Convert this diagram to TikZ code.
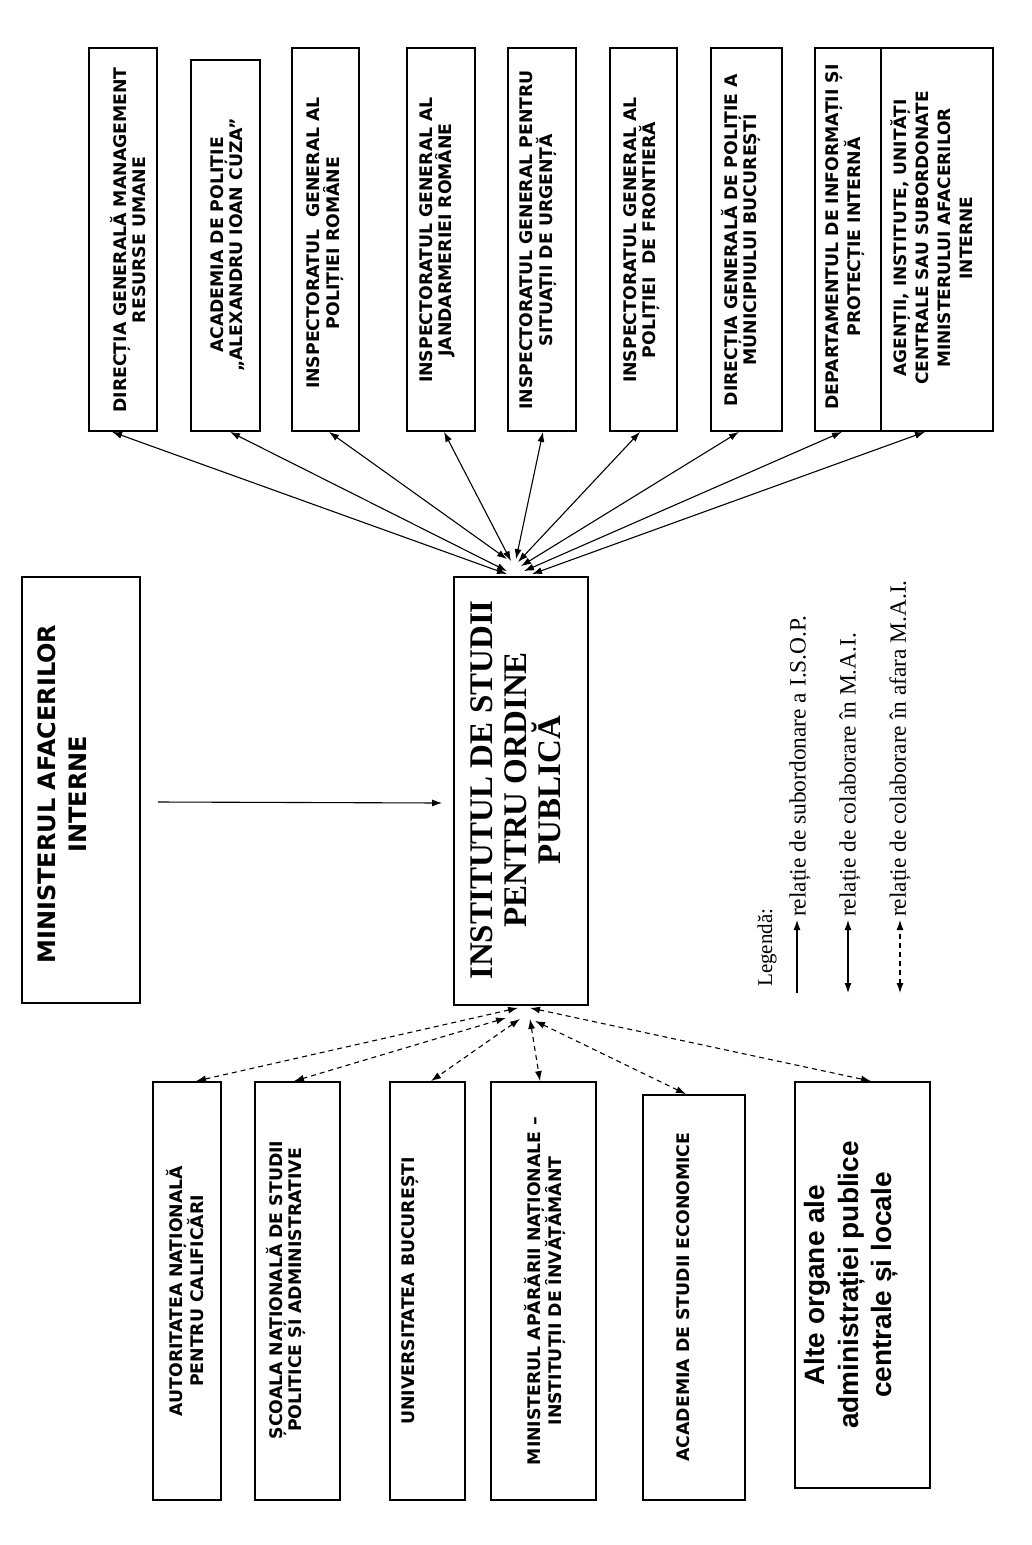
\documentclass[tikz,border=0pt]{standalone}
\usepackage{fontspec}
\setmainfont{Liberation Serif}
\newfontfamily\vfont{DejaVu Sans}
\newfontfamily\afont{Liberation Sans}
\usetikzlibrary{arrows.meta,calc}
\tikzset{
  box/.style={draw, line width=1.8pt, inner sep=0pt},
  vtxt/.style={rotate=90, align=center, inner sep=0pt},
  sm/.style={font=\vfont\bfseries\fontsize{17.3}{19.5}\selectfont},
  rel/.style={line width=1.1pt, {Latex[length=10pt,width=7pt]}-{Latex[length=10pt,width=7pt]}},
  ext/.style={rel, dash pattern=on 5pt off 4pt},
  sub/.style={line width=1.1pt, -{Latex[length=10pt,width=7pt]}},
  legtxt/.style={rotate=90, anchor=west, inner sep=0pt, font=\fontsize{23.4}{26}\selectfont}
}
\begin{document}
\begin{tikzpicture}[x=1pt,y=-1pt]
\useasboundingbox (0,0) rectangle (1031,1545);

% ---- top boxes
\node[box, minimum width=68pt, minimum height=383pt] (b1) at (123,239.5) {};
\node[box, minimum width=69pt, minimum height=371pt] (b2) at (225.5,245.5) {};
\node[box, minimum width=67pt, minimum height=383pt] (b3) at (325.5,239.5) {};
\node[box, minimum width=68pt, minimum height=383pt] (b4) at (441,239.5) {};
\node[box, minimum width=68pt, minimum height=383pt] (b5) at (542,239.5) {};
\node[box, minimum width=67pt, minimum height=383pt] (b6) at (643.5,239.5) {};
\node[box, minimum width=71pt, minimum height=383pt] (b7) at (746.5,239.5) {};
\node[box, minimum width=66pt, minimum height=383pt] (b8) at (848,239.5) {};
\node[box, minimum width=112pt, minimum height=383pt] (b9) at (937,239.5) {};

\node[vtxt, sm] (t1) at (128,240) {DIRECȚIA GENERALĂ MANAGEMENT\\RESURSE UMANE};
\node[vtxt, sm] (t2) at (227.5,245) {ACADEMIA DE POLIȚIE\\„ALEXANDRU IOAN CUZA”};
\node[vtxt, sm] (t3) at (325,243) {INSPECTORATUL\ \ GENERAL AL\\POLIȚIEI ROMÂNE};
\node[vtxt, sm] (t4) at (437.5,240) {INSPECTORATUL GENERAL AL\\JANDARMERIEI ROMÂNE};
\node[vtxt, sm] (t5) at (538,240) {INSPECTORATUL GENERAL PENTRU\\SITUAȚII DE URGENȚĂ};
\node[vtxt, sm] (t6) at (641.5,240) {INSPECTORATUL GENERAL AL\\POLIȚIEI\ \ DE FRONTIERĂ};
\node[vtxt, sm] (t7) at (741,240) {DIRECȚIA GENERALĂ DE POLIȚIE A\\MUNICIPIULUI BUCUREȘTI};
\node[vtxt, sm] (t8) at (845,237) {DEPARTAMENTUL DE INFORMAȚII ȘI\\PROTECȚIE INTERNĂ};
\node[vtxt, font=\vfont\bfseries\fontsize{17}{22}\selectfont] (t9) at (932,238) {AGENȚII, INSTITUTE, UNITĂȚI\\CENTRALE SAU SUBORDONATE\\MINISTERULUI AFACERILOR\\INTERNE};

% ---- main boxes
\node[box, minimum width=118pt, minimum height=426pt] (mai) at (81,790) {};
\node[vtxt, font=\vfont\bfseries\fontsize{24}{31}\selectfont] (tmai) at (62.5,794) {MINISTERUL AFACERILOR\\INTERNE};
\node[box, minimum width=134pt, minimum height=428pt] (isop) at (521,791) {};
\node[vtxt, font=\bfseries\fontsize{33}{34}\selectfont] (tisop) at (516,790) {INSTITUTUL DE STUDII\\PENTRU ORDINE\\PUBLICĂ};

% ---- bottom boxes
\node[box, minimum width=68pt, minimum height=418pt] (c1) at (187,1291) {};
\node[box, minimum width=85pt, minimum height=418pt] (c2) at (297.5,1291) {};
\node[box, minimum width=75pt, minimum height=418pt] (c3) at (427.5,1291) {};
\node[box, minimum width=105pt, minimum height=418pt] (c4) at (543.5,1291) {};
\node[box, minimum width=102pt, minimum height=405pt] (c5) at (694,1297.5) {};
\node[box, minimum width=135pt, minimum height=406pt] (c6) at (862.5,1285) {};

\node[vtxt, sm] (u1) at (185,1291) {AUTORITATEA NAȚIONALĂ\\PENTRU CALIFICĂRI};
\node[vtxt, sm] (u2) at (286,1290) {ȘCOALA NAȚIONALĂ DE STUDII\\POLITICE ȘI ADMINISTRATIVE};
\node[vtxt, sm] (u3) at (410,1291) {UNIVERSITATEA BUCUREȘTI};
\node[vtxt, sm] (u4) at (545,1291) {MINISTERUL APĂRĂRII NAȚIONALE –\\INSTITUȚII DE ÎNVĂȚĂMÂNT};
\node[vtxt, sm] (u5) at (683,1297) {ACADEMIA DE STUDII ECONOMICE};
\node[vtxt, font=\afont\bfseries\fontsize{28}{33.5}\selectfont] (u6) at (851.5,1285) {Alte organe ale\\administrației publice\\centrale și locale};

% ---- ends at ISOP
\coordinate (n1) at ($(isop.north)+(-14,-2)$);
\coordinate (n2) at ($(isop.north)+(-14,-5)$);
\coordinate (n3) at ($(isop.north)+(-14,-17)$);
\coordinate (n4) at ($(isop.north)+(-10,-15)$);
\coordinate (n5) at ($(isop.north)+(-5,-17)$);
\coordinate (n6) at ($(isop.north)+(-3,-14)$);
\coordinate (n7) at ($(isop.north)+(0,-10)$);
\coordinate (n8) at ($(isop.north)+(3,-5)$);
\coordinate (n9) at ($(isop.north)+(11,-2)$);

\coordinate (s1) at ($(isop.south)+(-3,2)$);
\coordinate (s2) at ($(isop.south)+(-15,12)$);
\coordinate (s3) at ($(isop.south)+(-1,13)$);
\coordinate (s4) at ($(isop.south)+(9,13)$);
\coordinate (s5) at ($(isop.south)+(14,15)$);
\coordinate (s6) at ($(isop.south)+(9,2)$);

% ---- connectors top
\draw[rel] (n1) -- ([xshift=-11pt]b1.south);
\draw[rel] (n2) -- ([xshift=4.5pt]b2.south);
\draw[rel] (n3) -- ([xshift=3.5pt]b3.south);
\draw[rel] (n4) -- ([xshift=3pt]b4.south);
\draw[rel] (n5) -- ([xshift=1pt]b5.south);
\draw[rel] (n6) -- ([xshift=-3.5pt]b6.south);
\draw[rel] (n7) -- ([xshift=-7.5pt]b7.south);
\draw[rel] (n8) -- ([xshift=-6pt]b8.south);
\draw[rel] (n9) -- ([xshift=-12pt]b9.south);

% ---- connectors bottom
\draw[ext] (s1) -- ([xshift=9pt]c1.north);
\draw[ext] (s2) -- ([xshift=-3.5pt]c2.north);
\draw[ext] (s3) -- ([xshift=3.5pt]c3.north);
\draw[ext] (s4) -- ([xshift=-3.5pt]c4.north);
\draw[ext] (s5) -- ([xshift=-8pt]c5.north);
\draw[ext] (s6) -- ([xshift=8.5pt]c6.north);

% ---- MAI -> ISOP
\draw[sub] ([xshift=17pt,yshift=-12pt]mai.east) -- ([xshift=-11pt,yshift=-12pt]isop.west);

% ---- legend
\node[legtxt, font=\fontsize{21}{24}\selectfont] (leg) at (767,987) {Legendă:};
\coordinate (la1) at (797,993); \coordinate (lb1) at (797,920);
\coordinate (la2) at (848,993); \coordinate (lb2) at (848,920);
\coordinate (la3) at (900,993); \coordinate (lb3) at (900,920);
\draw[sub] (la1) -- (lb1);
\draw[rel] (la2) -- (lb2);
\draw[ext] (la3) -- (lb3);
\node[legtxt] (l1) at (800,917) {relație de subordonare a I.S.O.P.};
\node[legtxt] (l2) at (850,917) {relație de colaborare în M.A.I.};
\node[legtxt] (l3) at (900,917) {relație de colaborare în afara M.A.I.};
\end{tikzpicture}
\end{document}
